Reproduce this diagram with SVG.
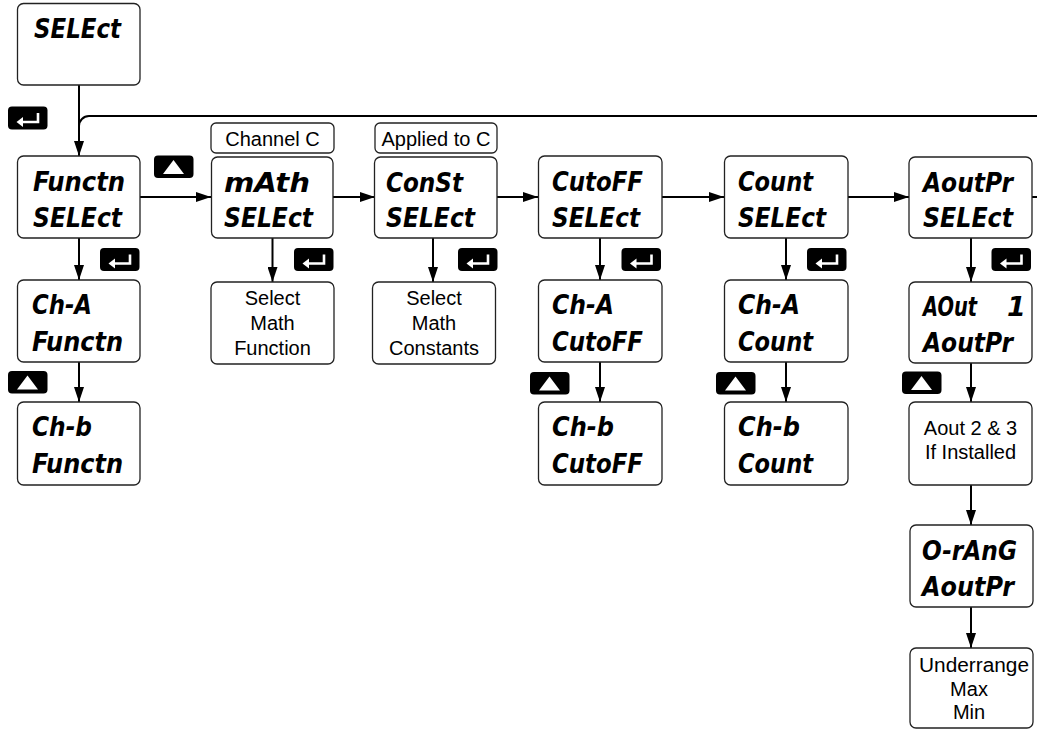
<svg xmlns="http://www.w3.org/2000/svg" xmlns:xlink="http://www.w3.org/1999/xlink" width="1037" height="729" viewBox="0 0 1037 729">
<style>
.box{fill:#fff;stroke:#222;stroke-width:1.3}
.lcd{font-family:"DejaVu Sans","Liberation Sans",sans-serif;font-weight:bold;font-style:italic;font-size:27px;fill:#000}
.lbl{font-family:"Liberation Sans",Arial,sans-serif;font-size:20px;fill:#000;text-anchor:middle}
.conn{stroke:#000;stroke-width:2;fill:none}
.arr{marker-end:url(#ah)}
</style>
<defs>
<marker id="ah" viewBox="0 0 15 10" refX="15" refY="5" markerWidth="15" markerHeight="10" markerUnits="userSpaceOnUse" orient="auto"><path d="M0 0 L15 5 L0 10 Z" fill="#000"/></marker>
<g id="enter"><rect x="0" y="0" width="39.5" height="23" rx="4" fill="#000"/><path d="M30 6.5 V15.5 H14" fill="none" stroke="#fff" stroke-width="2.6"/><path d="M8.5 15.5 L15 10.5 L15 20.5 Z" fill="#fff"/></g>
<g id="up"><rect x="0" y="0" width="39.5" height="22.5" rx="4" fill="#000"/><path d="M19.5 4.5 L30 18.5 L9 18.5 Z" fill="#fff"/></g>
</defs>

<g id="connectors">
<path class="conn arr" d="M79 85 V156"/>
<path class="conn" d="M1037 116 H89 A10 10 0 0 0 79 126"/>
<path class="conn arr" d="M140 197 H211"/>
<path class="conn arr" d="M333 197 H375"/>
<path class="conn arr" d="M497 197 H538"/>
<path class="conn arr" d="M662 197 H724"/>
<path class="conn arr" d="M848 197 H909"/>
<path class="conn" d="M1032 197 H1037"/>
<path class="conn arr" d="M79 238 V280"/>
<path class="conn arr" d="M79 362 V402"/>
<path class="conn arr" d="M272.5 238 V282"/>
<path class="conn arr" d="M433 238 V282"/>
<path class="conn arr" d="M600 238 V280"/>
<path class="conn arr" d="M600 362 V402"/>
<path class="conn arr" d="M786 238 V280"/>
<path class="conn arr" d="M786 362 V402"/>
<path class="conn arr" d="M971 238 V282"/>
<path class="conn arr" d="M971 363 V402"/>
<path class="conn arr" d="M971 485 V525"/>
<path class="conn arr" d="M971 607 V648"/>
</g>

<g id="icons">
<use xlink:href="#enter" x="8" y="106.5"/>
<use xlink:href="#enter" x="100" y="248"/>
<use xlink:href="#enter" x="294" y="248"/>
<use xlink:href="#enter" x="458" y="248"/>
<use xlink:href="#enter" x="621.5" y="248"/>
<use xlink:href="#enter" x="807" y="248"/>
<use xlink:href="#enter" x="991.5" y="248"/>
<use xlink:href="#up" x="154" y="155.5"/>
<use xlink:href="#up" x="8" y="371"/>
<use xlink:href="#up" x="530" y="372"/>
<use xlink:href="#up" x="716" y="372"/>
<use xlink:href="#up" x="902" y="371.5"/>
</g>

<g id="n-select">
<rect class="box" x="17.5" y="3.5" width="122.5" height="81.5" rx="6"/>
<text class="lcd" x="34" y="38" textLength="87" lengthAdjust="spacingAndGlyphs">SELEct</text>
</g>

<g id="n-functn">
<rect class="box" x="17.5" y="156" width="122.5" height="82" rx="6"/>
<text class="lcd" x="33" y="191" textLength="92" lengthAdjust="spacingAndGlyphs">Functn</text>
<text class="lcd" x="33" y="227" textLength="89" lengthAdjust="spacingAndGlyphs">SELEct</text>
</g>

<g id="n-cha-functn">
<rect class="box" x="17.5" y="280" width="122.5" height="82" rx="6"/>
<text class="lcd" x="32" y="314" textLength="60" lengthAdjust="spacingAndGlyphs">Ch-A</text>
<text class="lcd" x="32" y="351" textLength="91" lengthAdjust="spacingAndGlyphs">Functn</text>
</g>

<g id="n-chb-functn">
<rect class="box" x="17.5" y="402" width="122.5" height="83" rx="6"/>
<text class="lcd" x="32" y="436" textLength="60" lengthAdjust="spacingAndGlyphs">Ch-b</text>
<text class="lcd" x="32" y="473" textLength="91" lengthAdjust="spacingAndGlyphs">Functn</text>
</g>

<g id="lbl-channel-c">
<rect class="box" x="211" y="123" width="123" height="30" rx="5"/>
<text class="lbl" x="272.5" y="146">Channel C</text>
</g>

<g id="n-math">
<rect class="box" x="211.5" y="157" width="121.5" height="81" rx="6"/>
<text class="lcd" x="224" y="192" textLength="86" lengthAdjust="spacingAndGlyphs">mAth</text>
<text class="lcd" x="224" y="227" textLength="89" lengthAdjust="spacingAndGlyphs">SELEct</text>
</g>

<g id="n-math-func">
<rect class="box" x="211" y="282" width="123" height="82" rx="6"/>
<text class="lbl" x="272.5" y="305">Select</text>
<text class="lbl" x="272.5" y="330">Math</text>
<text class="lbl" x="272.5" y="355">Function</text>
</g>

<g id="lbl-applied">
<rect class="box" x="375" y="123" width="122" height="30" rx="5"/>
<text class="lbl" x="436" y="146">Applied to C</text>
</g>

<g id="n-const">
<rect class="box" x="374.5" y="157" width="122.5" height="81" rx="6"/>
<text class="lcd" x="386" y="192" textLength="77" lengthAdjust="spacingAndGlyphs">ConSt</text>
<text class="lcd" x="386" y="227" textLength="89" lengthAdjust="spacingAndGlyphs">SELEct</text>
</g>

<g id="n-math-const">
<rect class="box" x="372.5" y="282" width="123" height="82" rx="6"/>
<text class="lbl" x="434" y="305">Select</text>
<text class="lbl" x="434" y="330">Math</text>
<text class="lbl" x="434" y="355">Constants</text>
</g>

<g id="n-cutoff">
<rect class="box" x="538.5" y="156" width="123.5" height="82" rx="6"/>
<text class="lcd" x="552" y="191" textLength="91" lengthAdjust="spacingAndGlyphs">CutoFF</text>
<text class="lcd" x="552" y="227" textLength="88" lengthAdjust="spacingAndGlyphs">SELEct</text>
</g>

<g id="n-cha-cutoff">
<rect class="box" x="538.5" y="280" width="123.5" height="82" rx="6"/>
<text class="lcd" x="552" y="314" textLength="62" lengthAdjust="spacingAndGlyphs">Ch-A</text>
<text class="lcd" x="552" y="351" textLength="91" lengthAdjust="spacingAndGlyphs">CutoFF</text>
</g>

<g id="n-chb-cutoff">
<rect class="box" x="538.5" y="402" width="123.5" height="83" rx="6"/>
<text class="lcd" x="552" y="436" textLength="62" lengthAdjust="spacingAndGlyphs">Ch-b</text>
<text class="lcd" x="552" y="473" textLength="91" lengthAdjust="spacingAndGlyphs">CutoFF</text>
</g>

<g id="n-count">
<rect class="box" x="724.5" y="156" width="123.5" height="82" rx="6"/>
<text class="lcd" x="738" y="191" textLength="75" lengthAdjust="spacingAndGlyphs">Count</text>
<text class="lcd" x="738" y="227" textLength="88" lengthAdjust="spacingAndGlyphs">SELEct</text>
</g>

<g id="n-cha-count">
<rect class="box" x="724.5" y="280" width="123.5" height="82" rx="6"/>
<text class="lcd" x="738" y="314" textLength="62" lengthAdjust="spacingAndGlyphs">Ch-A</text>
<text class="lcd" x="738" y="351" textLength="75" lengthAdjust="spacingAndGlyphs">Count</text>
</g>

<g id="n-chb-count">
<rect class="box" x="724.5" y="402" width="123.5" height="83" rx="6"/>
<text class="lcd" x="738" y="436" textLength="62" lengthAdjust="spacingAndGlyphs">Ch-b</text>
<text class="lcd" x="738" y="473" textLength="75" lengthAdjust="spacingAndGlyphs">Count</text>
</g>

<g id="n-aoutpr">
<rect class="box" x="909" y="157" width="123" height="81" rx="6"/>
<text class="lcd" x="923" y="192" textLength="90" lengthAdjust="spacingAndGlyphs">AoutPr</text>
<text class="lcd" x="923" y="227" textLength="90" lengthAdjust="spacingAndGlyphs">SELEct</text>
</g>

<g id="n-aout1">
<rect class="box" x="909" y="282" width="123" height="81" rx="6"/>
<text class="lcd" x="923" y="316" textLength="54" lengthAdjust="spacingAndGlyphs">AOut</text>
<text class="lcd" x="1007" y="316">1</text>
<text class="lcd" x="923" y="352" textLength="90" lengthAdjust="spacingAndGlyphs">AoutPr</text>
</g>

<g id="n-aout23">
<rect class="box" x="909" y="402" width="123" height="83" rx="6"/>
<text class="lbl" x="970.5" y="435">Aout 2 &amp; 3</text>
<text class="lbl" x="970.5" y="458.5">If Installed</text>
</g>

<g id="n-orang">
<rect class="box" x="910" y="525" width="123" height="82" rx="6"/>
<text class="lcd" x="922" y="560" textLength="95" lengthAdjust="spacingAndGlyphs">O-rAnG</text>
<text class="lcd" x="922" y="596" textLength="92" lengthAdjust="spacingAndGlyphs">AoutPr</text>
</g>

<g id="n-under">
<rect class="box" x="910" y="648" width="123" height="80" rx="6"/>
<text class="lbl" x="974" y="672" textLength="110" lengthAdjust="spacingAndGlyphs">Underrange</text>
<text class="lbl" x="969" y="695.5">Max</text>
<text class="lbl" x="969" y="719">Min</text>
</g>
</svg>
